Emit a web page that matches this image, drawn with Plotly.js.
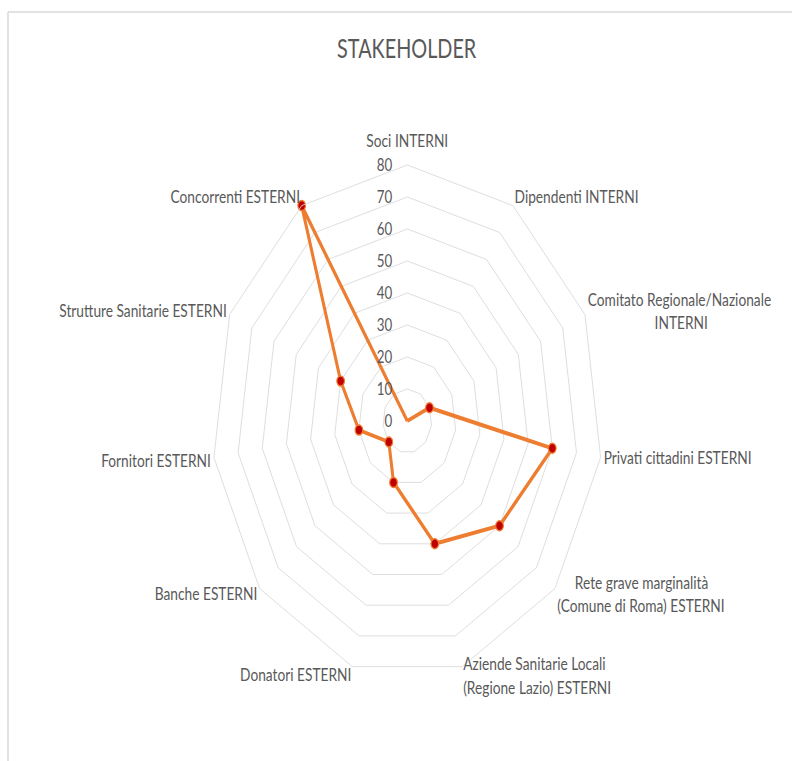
<!DOCTYPE html>
<html>
<head>
<meta charset="utf-8">
<script src="https://cdn.plot.ly/plotly-3.0.1.min.js"></script>
<style>
  html, body { margin: 0; padding: 0; overflow: hidden; background: #ffffff; }
  #wrap { width: 792px; height: 761px; overflow: hidden; position: relative; }
  #chart { width: 1038px; height: 761px; transform: scaleX(0.763); transform-origin: 0 0; position: absolute; left: 0; top: 0; }
</style>
</head>
<body>
<div id="wrap"><div id="chart"></div></div>
<script>
// Data
const categories = [
  "Soci INTERNI",
  "Dipendenti INTERNI",
  "Comitato Regionale/Nazionale INTERNI",
  "Privati cittadini ESTERNI",
  "Rete grave marginalità (Comune di Roma) ESTERNI",
  "Aziende Sanitarie Locali (Regione Lazio) ESTERNI",
  "Donatori ESTERNI",
  "Banche ESTERNI",
  "Fornitori ESTERNI",
  "Strutture Sanitarie ESTERNI",
  "Concorrenti ESTERNI"
];
const NB = "\u00A0";
const tickLabels = [
  "Soci INTERNI",
  "Dipendenti INTERNI",
  "Comitato Regionale/Nazionale<br>" + NB.repeat(19) + "INTERNI",
  "Privati cittadini ESTERNI",
  NB.repeat(5) + "Rete grave marginalità<br>(Comune di Roma) ESTERNI",
  "Aziende Sanitarie Locali<br>(Regione Lazio) ESTERNI",
  "Donatori ESTERNI",
  "Banche ESTERNI",
  "Fornitori ESTERNI",
  "Strutture Sanitarie ESTERNI",
  "Concorrenti ESTERNI"
];
const values = [0, 0, 10, 60, 50, 40, 20, 10, 20, 30, 80];
const radialTicks = [0, 10, 20, 30, 40, 50, 60, 70, 80];
const chartTitle = "STAKEHOLDER";
// small vertical nudges of the category labels (px), to follow the reference placement
const labelNudgeY = [-10, 0, 5, -3, -15, -19, -9, -8, 0, 0, 0];

const thetaClosed = categories.concat([categories[0]]);
const rClosed = values.concat([values[0]]);

const textColor = "#595959";
const gridColor = "#d9d9d9";
const fontFam = "Lato, 'Open Sans', sans-serif";

const trace = {
  type: "scatterpolar",
  mode: "lines+markers",
  theta: thetaClosed,
  r: rClosed,
  line: { color: "#ED7D31", width: 4 },
  marker: { color: "#C00000", size: 10, line: { color: "#ED7D31", width: 1.5 } },
  hoverinfo: "skip",
  showlegend: false,
  cliponaxis: false
};

const layout = {
  width: 1038,
  height: 761,
  margin: { l: 0, r: 0, t: 0, b: 0 },
  paper_bgcolor: "#ffffff",
  plot_bgcolor: "#ffffff",
  showlegend: false,
  title: {
    text: chartTitle,
    font: { family: fontFam, size: 26, color: textColor },
    x: 0.5135, xanchor: "center",
    y: 0.936, yanchor: "middle"
  },
  polar: {
    domain: { x: [0.2676, 0.7609], y: [0.1104, 0.7832] },
    bgcolor: "rgba(0,0,0,0)",
    gridshape: "linear",
    angularaxis: {
      type: "category",
      categoryarray: categories,
      direction: "clockwise",
      rotation: 90,
      tickmode: "array",
      tickvals: categories,
      ticktext: tickLabels,
      showgrid: false,
      showline: true,
      linecolor: gridColor,
      linewidth: 1,
      ticks: "",
      tickfont: { family: fontFam, size: 18, color: textColor }
    },
    radialaxis: {
      range: [0, 80],
      tickmode: "array",
      tickvals: radialTicks,
      ticks: "outside",
      ticklen: 13,
      tickcolor: "rgba(0,0,0,0)",
      showline: false,
      showgrid: true,
      gridcolor: gridColor,
      gridwidth: 1,
      angle: 90,
      side: "counterclockwise",
      tickangle: 90,
      tickfont: { family: fontFam, size: 17.5, color: textColor }
    }
  },
  shapes: [
    { type: "line", xref: "paper", yref: "paper", x0: 0.0101, x1: 0.0101, y0: 0, y1: 0.9842,
      line: { color: gridColor, width: 2 } },
    { type: "line", xref: "paper", yref: "paper", x0: 0.0101, x1: 1, y0: 0.9842, y1: 0.9842,
      line: { color: gridColor, width: 1.5 } }
  ]
};

Plotly.newPlot("chart", [trace], layout, { staticPlot: true, displayModeBar: false }).then(function () {
  const groups = document.querySelectorAll("#chart g.angularaxistick");
  groups.forEach(function (g) {
    const txt = (g.textContent || "").replace(/\u00A0/g, "").trim();
    let idx = -1;
    for (let i = 0; i < categories.length; i++) {
      const firstWord = categories[i].split(" ")[0];
      if (txt.indexOf(firstWord) === 0) { idx = i; break; }
    }
    if (idx >= 0 && labelNudgeY[idx] !== 0) {
      const prev = g.getAttribute("transform") || "";
      g.setAttribute("transform", (prev + " translate(0," + labelNudgeY[idx] + ")").trim());
    }
  });
});
</script>
</body>
</html>
